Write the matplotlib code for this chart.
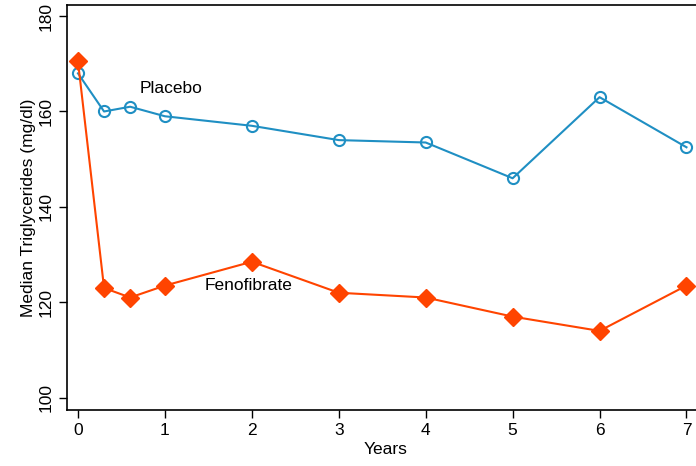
import matplotlib.pyplot as plt

plt.rcParams['font.family'] = ['Liberation Sans', 'DejaVu Sans']

# Datos
years = [0, 0.3, 0.6, 1, 2, 3, 4, 5, 6, 7]
placebo = [168, 160, 161, 159, 157, 154, 153.5, 146, 163, 152.5]
fenofibrate = [170.5, 123, 121, 123.5, 128.5, 122, 121, 117, 114, 123.5]
xticks = [0, 1, 2, 3, 4, 5, 6, 7]
yticks = [100, 120, 140, 160, 180]

blue = '#1f8fc3'
orange = '#ff4400'

fig = plt.figure(figsize=(6.96, 4.66), dpi=100)
ax = fig.add_axes([0.0963, 0.120, 0.915, 0.869])

ax.plot(years, placebo, color=blue, lw=1.5, marker='o', markersize=8,
        markerfacecolor='none', markeredgecolor=blue, markeredgewidth=1.5, zorder=3)
ax.plot(years, fenofibrate, color=orange, lw=1.5, marker='D', markersize=9.5,
        markerfacecolor=orange, markeredgecolor=orange, zorder=4)

ax.text(0.71, 164.8, 'Placebo', fontsize=12.5, va='center', ha='left')
ax.text(1.46, 123.6, 'Fenofibrate', fontsize=12.5, va='center', ha='left')

ax.set_xlim(-0.126, 7.2)
ax.set_ylim(97.4, 182.3)
ax.set_xticks(xticks)
ax.set_yticks(yticks)
ax.set_yticklabels([str(v) for v in yticks], rotation=90, va='center')
ax.tick_params(labelsize=12.5, length=6, width=1, direction='out')
ax.set_xlabel('Years', fontsize=12.5, labelpad=3)
ax.set_ylabel('Median Triglycerides (mg/dl)', fontsize=12.5, labelpad=2)

ax.spines['right'].set_visible(False)
for s in ['left', 'top', 'bottom']:
    ax.spines[s].set_linewidth(1.2)

fig.savefig('out.png', dpi=100)
